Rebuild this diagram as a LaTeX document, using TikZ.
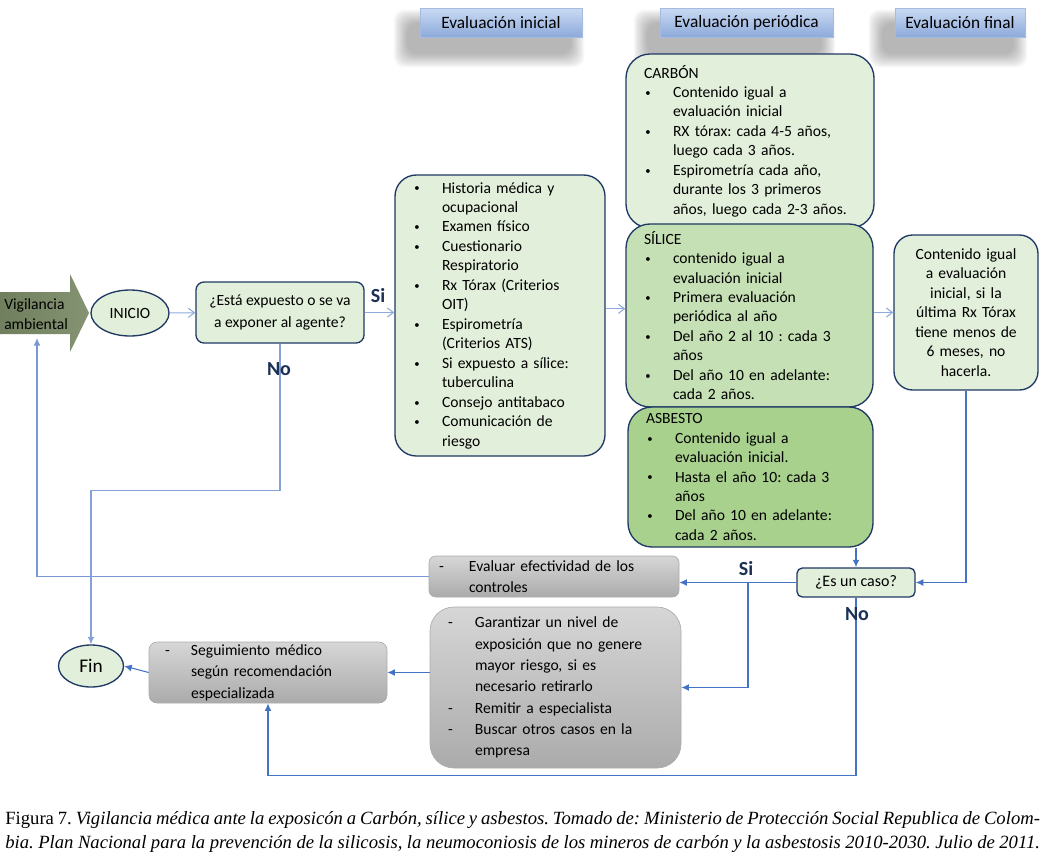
\documentclass[tikz,border=0pt]{standalone}
\usepackage{fontspec}
\setmainfont{Carlito}
\newfontfamily\capfont{Liberation Serif}
\usepackage{xcolor}
\usetikzlibrary{shapes.geometric,arrows.meta,backgrounds,calc}
\definecolor{navy1}{HTML}{1F3864}
\definecolor{green1}{HTML}{E2EFDA}
\definecolor{green2}{HTML}{C5E0B4}
\definecolor{green3}{HTML}{A9D18E}
\definecolor{olive1}{HTML}{7A8A66}
\definecolor{blue1}{HTML}{8FAADC}
\definecolor{blue2}{HTML}{4472C4}
\definecolor{head1}{HTML}{C9DAF2}
\definecolor{head2}{HTML}{8EAADB}
\frenchspacing
\newcommand{\bodyfont}{\fontsize{11.7pt}{14.6pt}\selectfont}
\newcommand{\greyfont}{\fontsize{11.7pt}{16pt}\selectfont}
\newcommand{\bi}{\makebox[21.75pt][l]{\hspace{1pt}\raisebox{0.8pt}{\fontsize{8pt}{8pt}\selectfont\textbullet}}}
\newcommand{\bc}{\hspace*{21.75pt}}
\newcommand{\di}[1]{\makebox[#1][l]{-}}

\tikzset{
  gbox/.style={draw=navy1, line width=1pt, fill=green1, font=\bodyfont, inner ysep=0pt},
  listbox/.style={gbox, align=left, inner xsep=13.5pt},
  greybox/.style={draw=gray!65, line width=0.5pt, top color=gray!32, bottom color=gray!66, font=\greyfont, align=left, inner ysep=0pt},
  headbox/.style={draw=head2!80, line width=0.5pt, top color=head1, bottom color=head2, font=\fontsize{13pt}{15pt}\selectfont, minimum height=21.75pt, inner sep=0pt},
  thinarrow/.style={draw=blue1, line width=0.8pt, -{Straight Barb[length=1.6mm, width=2.4mm]}},
  caseline/.style={draw=blue2, line width=0.8pt, -{Latex[length=2mm, width=1.8mm]}},
  answer/.style={font=\fontsize{15pt}{17pt}\selectfont\bfseries, text=navy1!85!black},
}

\begin{document}
\begin{tikzpicture}[x=0.75pt,y=-0.75pt]
\useasboundingbox (0,0) rectangle (1046,864);

% entrada
\shade[left color=olive1!92!black, right color=olive1!92!white] (0,292) -- (70,292) -- (70,274) -- (89,313) -- (70,352) -- (70,334) -- (0,334) -- cycle;
\node[font=\bodyfont, align=left, anchor=west, inner sep=0pt] (vig) at (4,314) {Vigilancia\\ambiental};

\node[gbox, ellipse, minimum width=58.5pt, minimum height=34.5pt] (inicio) at (130,313) {INICIO};
\node[gbox, rounded corners=6pt, minimum width=126pt, minimum height=45.75pt, align=center, font=\greyfont] (quest) at (280,312.5) {¿Está expuesto o se va\\a exponer al agente?};

% cabeceras
\node[headbox, minimum width=121.5pt] (hini) at (501,22.5) {Evaluación inicial};
\node[headbox, minimum width=129.75pt] (hper) at (746.5,22.5) {Evaluación periódica};
\node[headbox, minimum width=97.5pt] (hfin) at (960,22.5) {Evaluación final};

\begin{pgfonlayer}{background}
\foreach \h in {hini,hper,hfin}
  \foreach \k in {0,...,11}
    \fill[black, opacity=0.028, rounded corners=8pt] ([shift={(-26+1.2*\k,2+1.2*\k)}]\h.north west) rectangle ([shift={(2-1.2*\k,30-1.2*\k)}]\h.south east);
\end{pgfonlayer}

% evaluacion inicial
\node[listbox, rounded corners=16pt, minimum width=157.5pt, minimum height=210.75pt, text width=130.5pt] (ini) at (500,315.5) {\bi Historia médica y\\ \bc ocupacional\\ \bi Examen físico\\ \bi Cuestionario\\ \bc Respiratorio\\ \bi Rx Tórax (Criterios\\ \bc OIT)\\ \bi Espirometría\\ \bc (Criterios ATS)\\ \bi Si expuesto a sílice:\\ \bc tuberculina\\ \bi Consejo antitabaco\\ \bi Comunicación de\\ \bc riesgo};

% evaluacion periodica
\node[listbox, rounded corners=18pt, minimum width=186pt, minimum height=130.5pt, text width=159pt] (carb) at (750,141) {CARBÓN\\ \bi Contenido igual a\\ \bc evaluación inicial\\ \bi RX tórax: cada 4-5 años,\\ \bc luego cada 3 años.\\ \bi Espirometría cada año,\\ \bc durante los 3 primeros\\ \bc años, luego cada 2-3 años.};
\node[listbox, fill=green2, rounded corners=18pt, minimum width=185.25pt, minimum height=137.25pt, text width=158.25pt] (sil) at (749.5,315.5) {SÍLICE\\ \bi contenido igual a\\ \bc evaluación inicial\\ \bi Primera evaluación\\ \bc periódica al año\\ \bi Del año 2 al 10 : cada 3\\ \bc años\\ \bi Del año 10 en adelante:\\ \bc cada 2 años.};
\node[listbox, fill=green3, rounded corners=18pt, minimum width=183.75pt, minimum height=105pt, text width=156.75pt] (asb) at (750.5,477) {ASBESTO\\ \bi Contenido igual a\\ \bc evaluación inicial.\\ \bi Hasta el año 10: cada 3\\ \bc años\\ \bi Del año 10 en adelante:\\ \bc cada 2 años.};

% evaluacion final
\node[gbox, rounded corners=14pt, minimum width=108pt, minimum height=116.25pt, text width=100pt, align=center] (efin) at (966,312.5) {Contenido igual\\a evaluación\\inicial, si la\\última Rx Tórax\\tiene menos de\\6 meses, no\\hacerla.};

\node[gbox, rounded corners=4pt, minimum width=88.5pt, minimum height=21.75pt, font=\fontsize{12pt}{14pt}\selectfont] (caso) at (856,582.5) {¿Es un caso?};

% acciones
\node[greybox, rounded corners=5pt, minimum width=187.5pt, minimum height=30.75pt, text width=172.5pt, inner xsep=7.5pt] (eval) at (554,576.5) {\di{22.5pt}Evaluar efectividad de los\\ \hspace*{22.5pt}controles};
\node[greybox, rounded corners=18pt, minimum width=188.25pt, minimum height=120.75pt, text width=161.25pt, inner xsep=13.5pt] (gar) at (555.5,687.5) {\di{20.25pt}Garantizar un nivel de\\ \hspace*{20.25pt}exposición que no genere\\ \hspace*{20.25pt}mayor riesgo, si es\\ \hspace*{20.25pt}necesario retirarlo\\ \di{20.25pt}Remitir a especialista\\ \di{20.25pt}Buscar otros casos en la\\ \hspace*{20.25pt}empresa};
\node[greybox, rounded corners=6pt, minimum width=178.5pt, minimum height=45.75pt, text width=154.5pt, inner xsep=12pt] (seg) at (268,672.5) {\di{19.5pt}Seguimiento médico\\ \hspace*{19.5pt}según recomendación\\ \hspace*{19.5pt}especializada};

\node[gbox, ellipse, minimum width=48.75pt, minimum height=31.5pt, font=\fontsize{14.5pt}{16pt}\selectfont] (fin) at (91,666) {Fin};

% conectores
\draw[thinarrow] (inicio) -- (quest);
\draw[thinarrow] (quest.east) -- (quest.east -| ini.west);
\draw[thinarrow] ([yshift=5pt]ini.east) -- ([yshift=5pt]ini.east -| sil.west);
\draw[thinarrow] (efin.west -| sil.east) -- (efin.west);

\draw[caseline] (caso.north |- asb.south) -- (caso.north);
\draw[caseline] (efin.south) |- (caso.east);
\draw[caseline] (caso.west) -- (caso.west -| eval.east);
\coordinate (sib) at (748,582.5);
\draw[caseline] (sib) |- (gar.east);
\draw[caseline] (caso.south) -- ++(0,177.5) -| (seg.south);
\draw[caseline] (seg.east -| gar.west) -- (seg.east);
\draw[caseline] (seg.west) -- (fin.east);
\coordinate (vigin) at (37,338);
\draw[caseline, draw=blue1!70!blue2] (eval.west) -| (vigin);
\draw[caseline, draw=blue1!85!blue2] (quest.south) -- ++(0,147) -| (fin.north);

\node[answer] (si1) at (378,296) {Si};
\node[answer] (no1) at (279,369) {No};
\node[answer] (si2) at (746,569) {Si};
\node[answer] (no2) at (857,614) {No};

% pie
\node[anchor=north west, inner sep=0pt, text width=776pt, align=justify, font=\capfont\fontsize{14pt}{18pt}\selectfont] (cap) at (5,811) {Figura 7. \textit{Vigilancia médica ante la exposicón a Carbón, sílice y asbestos. Tomado de: Ministerio de Protección Social Republica de Colom-\linebreak bia. Plan Nacional para la prevención de la silicosis, la neumoconiosis de los mineros de carbón y la asbestosis 2010-2030. Julio de 2011.}};

\end{tikzpicture}
\end{document}
